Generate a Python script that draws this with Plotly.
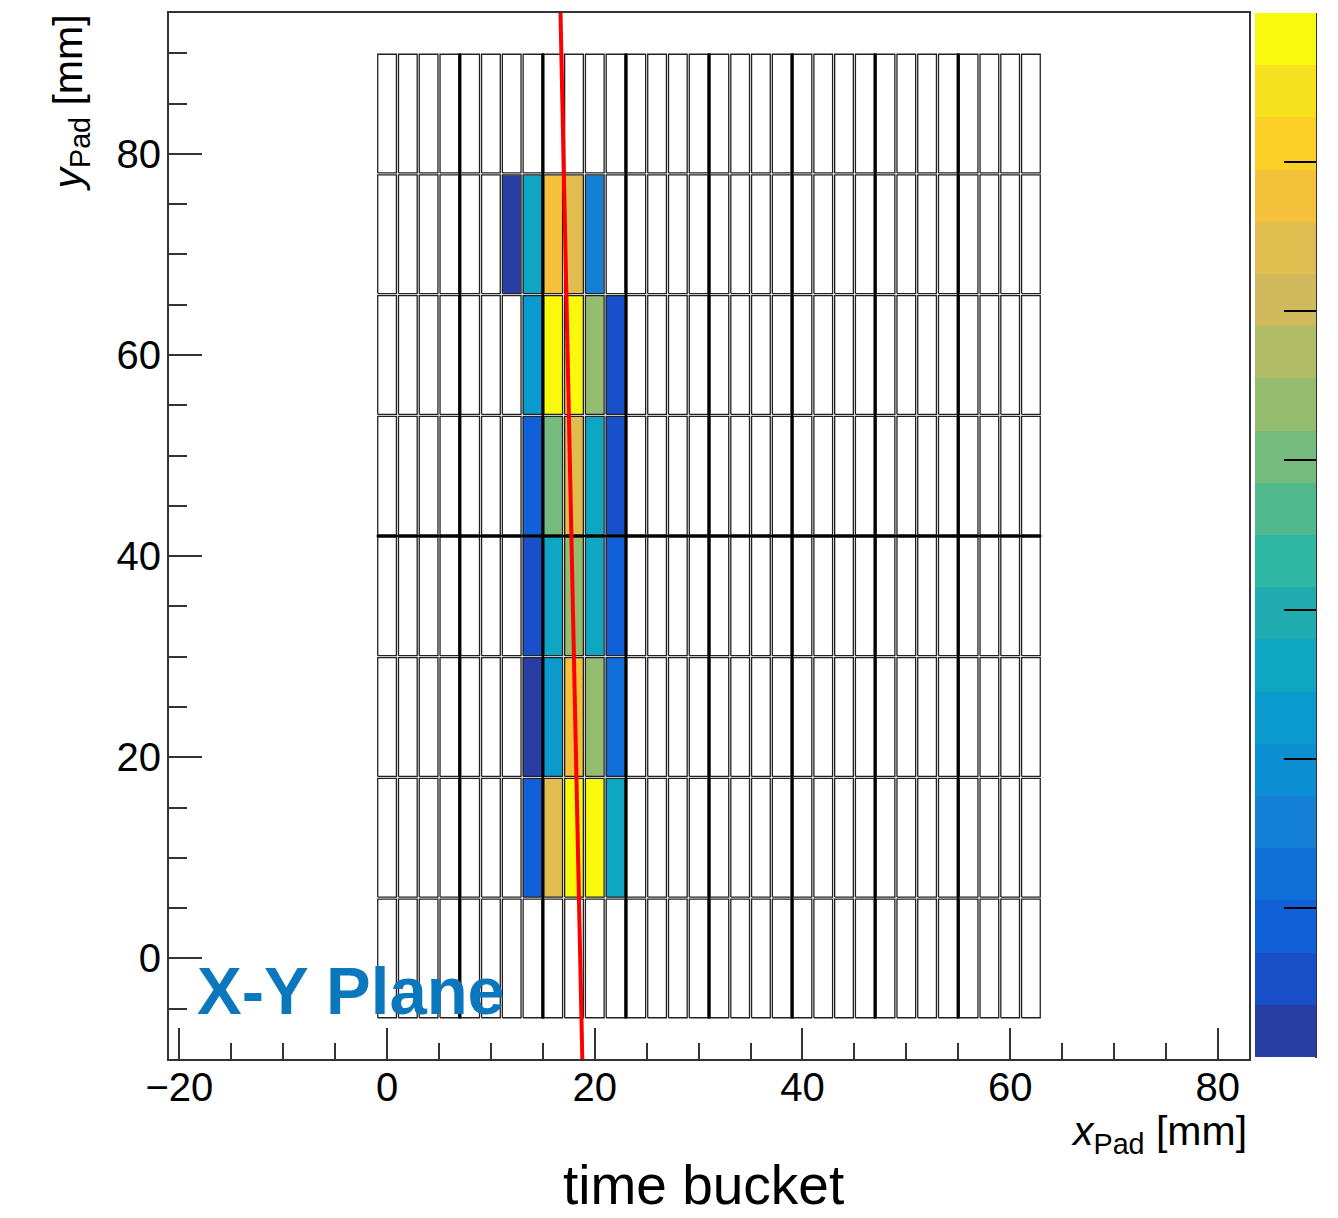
import plotly.graph_objects as go

# ---------------- data ----------------
# pad centres (mm)
pad_x = [0, 2, 4, 6, 8, 10, 12, 14, 16, 18, 20, 22, 24, 26, 28, 30,
         32, 34, 36, 38, 40, 42, 44, 46, 48, 50, 52, 54, 56, 58, 60, 62]
pad_y = [0, 12, 24, 36, 48, 60, 72, 84]

# hit pads: x centre, y centre, charge
hit_x = [12, 14, 16, 18, 20,
         14, 16, 18, 20, 22,
         14, 16, 18, 20, 22,
         14, 16, 18, 20, 22,
         14, 16, 18, 20, 22,
         14, 16, 18, 20, 22]
hit_y = [72, 72, 72, 72, 72,
         60, 60, 60, 60, 60,
         48, 48, 48, 48, 48,
         36, 36, 36, 36, 36,
         24, 24, 24, 24, 24,
         12, 12, 12, 12, 12]
hit_q = [20, 270, 580, 545, 160,
         230, 690, 680, 440, 50,
         90, 400, 540, 265, 55,
         60, 260, 445, 255, 95,
         25, 235, 585, 450, 125,
         85, 550, 695, 685, 270]

# module boundary lines
module_x = [7, 15, 23, 31, 39, 47, 55]
module_y = [42]

# reconstructed track
track_x = [16.7, 18.8]
track_y = [94, -10]

z_ticks = [0, 100, 200, 300, 400, 500, 600, 700]
x_ticks = [-20, 0, 20, 40, 60, 80]
y_ticks = [0, 20, 40, 60, 80]

# ---------------- style ----------------
band_colors = ["#283ea3", "#1750c8", "#1160d8", "#1170d8", "#1380d5",
               "#0b8ed2", "#0a9ace", "#0ea6c2", "#1fabb0", "#2eb7a2",
               "#52b98f", "#75bb7d", "#95bd70", "#b1bc67", "#d0b85c",
               "#e0bd4e", "#f3c13a", "#fbcf25", "#f7e11e", "#f9f90e"]
nb = len(band_colors)
colorscale = []
for j, c in enumerate(band_colors):
    colorscale.append([j / nb, c])
    colorscale.append([(j + 1) / nb, c])

HW, HH = 0.9, 5.9          # pad half width / half height
FONT = "Liberation Sans"
AX = "#333333"
PL, PR, PT, PB = 169, 1249, 13, 1059   # plot area in pixels
PW, PH = PR - PL, PB - PT


def px(xp):
    return (xp - PL) / PW


def py(yp):
    return 1 - (yp - PT) / PH


# charge grid
z = [[None for _ in pad_x] for _ in pad_y]
for x, y, q in zip(hit_x, hit_y, hit_q):
    z[pad_y.index(y)][pad_x.index(x)] = q

# pad outlines
ox, oy = [], []
for cy in pad_y:
    for cx in pad_x:
        ox += [cx - HW, cx + HW, cx + HW, cx - HW, cx - HW, None]
        oy += [cy - HH, cy - HH, cy + HH, cy + HH, cy - HH, None]

# module lines
ylo, yhi = pad_y[0] - 6, pad_y[-1] + 6
xlo, xhi = pad_x[0] - 1, pad_x[-1] + 1
mx, my = [], []
for xv in module_x:
    mx += [xv, xv, None]
    my += [ylo, yhi, None]
for yv in module_y:
    mx += [xlo, xhi, None]
    my += [yv, yv, None]

fig = go.Figure()
fig.add_trace(go.Heatmap(
    x=pad_x, y=pad_y, z=z, zmin=0, zmax=700, colorscale=colorscale,
    xgap=2, ygap=2, hoverongaps=False,
    colorbar=dict(
        x=px(1255), xanchor="left", xref="paper",
        y=py(1057), yanchor="bottom", len=(1057 - 13) / PH, lenmode="fraction",
        thickness=61, thicknessmode="pixels", xpad=0, ypad=0,
        outlinewidth=0, ticks="inside", ticklen=32, tickwidth=1.5,
        tickcolor="black", tickvals=z_ticks, showticklabels=False,
    ),
))
fig.add_trace(go.Scatter(x=ox, y=oy, mode="lines",
                         line=dict(color="#222222", width=1.3),
                         hoverinfo="skip", showlegend=False))
fig.add_trace(go.Scatter(x=mx, y=my, mode="lines",
                         line=dict(color="black", width=2.6),
                         hoverinfo="skip", showlegend=False))
fig.add_trace(go.Scatter(x=track_x, y=track_y, mode="lines",
                         line=dict(color="#ff0000", width=4),
                         hoverinfo="skip", showlegend=False))

axis_common = dict(
    showgrid=False, zeroline=False, showline=True, linecolor=AX, linewidth=2,
    mirror=True, ticks="inside", tickcolor=AX, tickwidth=2,
    tickfont=dict(family=FONT, size=40, color="black"),
)
fig.update_xaxes(range=[-21, 83], tickvals=x_ticks, ticklen=31,
                 ticktext=["\u221220", "0", "20", "40", "60", "80"],
                 ticklabelstandoff=-8,
                 minor=dict(dtick=5, tick0=0, ticks="inside", ticklen=16,
                            tickcolor=AX, tickwidth=2),
                 **axis_common)
fig.update_yaxes(range=[-10, 94], tickvals=y_ticks, ticklen=33,
                 ticklabelstandoff=-2,
                 minor=dict(dtick=5, tick0=0, ticks="inside", ticklen=18,
                            tickcolor=AX, tickwidth=2),
                 **axis_common)

fig.update_layout(
    width=1338, height=1218,
    margin=dict(l=PL, r=1338 - PR, t=PT, b=1218 - PB, autoexpand=False),
    plot_bgcolor="white", paper_bgcolor="white",
    showlegend=False,
    shapes=[dict(type="line", xref="paper", yref="paper",
                 x0=px(1316), x1=px(1316), y0=py(1058), y1=1,
                 line=dict(color=AX, width=2))],
    annotations=[
        dict(text="<b>X-Y Plane</b>", xref="paper", yref="paper",
             x=px(195), y=py(990),
             xanchor="left", yanchor="middle", showarrow=False,
             font=dict(family=FONT, size=67, color="#0b77bd")),
        dict(text="time bucket", xref="paper", yref="paper",
             x=px(703), y=py(1185),
             xanchor="center", yanchor="middle", showarrow=False,
             font=dict(family=FONT, size=55, color="black")),
        dict(text="<i>x</i><sub>Pad</sub> [mm]", xref="paper", yref="paper",
             x=1, y=py(1134),
             xanchor="right", yanchor="middle", showarrow=False,
             font=dict(family=FONT, size=41, color="black")),
        dict(text="<i>y</i><sub>Pad</sub> [mm]", xref="paper", yref="paper",
             x=px(70), y=1.0,
             xanchor="center", yanchor="top", textangle=-90, showarrow=False,
             font=dict(family=FONT, size=41, color="black")),
    ],
)

fig.write_html("out.html")
